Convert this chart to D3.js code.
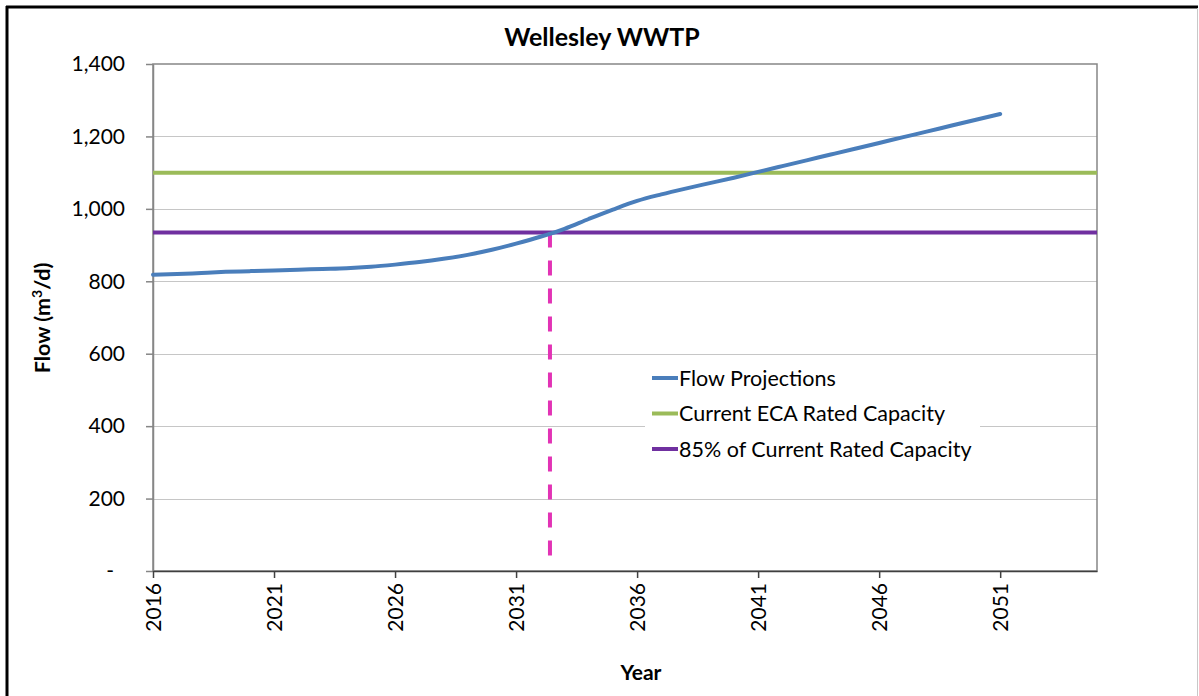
<!DOCTYPE html>
<html>
<head>
    <meta charset="utf-8">
    <title>Wellesley WWTP</title>
    <script src="https://cdnjs.cloudflare.com/ajax/libs/d3/7.8.5/d3.min.js"></script>
    <style>
        body { margin: 0; background: #fff; }
        text { font-family: Lato, "Open Sans", sans-serif; fill: #000; }
    </style>
</head>
<body>
<script>
    // datos
    var years = d3.range(2016, 2052);
    var flow = [818, 820, 823, 826, 828, 830, 832, 834, 836, 840,
                846, 853, 862, 873, 887, 904, 923, 945, 972, 998,
                1022, 1040, 1056, 1071, 1086, 1102, 1118, 1134, 1150, 1166,
                1182, 1198, 1214, 1230, 1246, 1262];
    var ecaCapacity = 1100;
    var capacity85 = 935;
    var crossYear = 2032.4;
    var yTicks = [0, 200, 400, 600, 800, 1000, 1200, 1400];
    var xTicks = [2016, 2021, 2026, 2031, 2036, 2041, 2046, 2051];
    var legendNames = ["Flow Projections", "Current ECA Rated Capacity", "85% of Current Rated Capacity"];
    var colores = ["#4a7ebb", "#9bbb59", "#7030a0"];

    var width = 1199, height = 696;
    var mLeft = 153, mRight = 1097, mTop = 64, mBottom = 571;

    var svg = d3.select("body").append("svg")
        .attr("width", width)
        .attr("height", height);

    // marco exterior
    svg.append("line").attr("x1", 7).attr("x2", 7).attr("y1", 6).attr("y2", 696)
        .attr("stroke", "#000").attr("stroke-width", 3);
    svg.append("line").attr("x1", 6).attr("x2", 1198).attr("y1", 7).attr("y2", 7)
        .attr("stroke", "#000").attr("stroke-width", 3);
    svg.append("line").attr("x1", 1197.5).attr("x2", 1197.5).attr("y1", 8).attr("y2", 696)
        .attr("stroke", "#c8c8c8").attr("stroke-width", 1);

    var x = d3.scaleLinear().domain([2016, 2055]).range([mLeft, mRight]);
    var y = d3.scaleLinear().domain([0, 1400]).range([mBottom, mTop]);

    // grilla
    svg.append("g").selectAll("line")
        .data(yTicks.slice(1, -1))
        .enter().append("line")
        .attr("x1", mLeft).attr("x2", mRight)
        .attr("y1", function(d) { return Math.round(y(d)) + 0.5; })
        .attr("y2", function(d) { return Math.round(y(d)) + 0.5; })
        .attr("stroke", "#c6c6c6").attr("stroke-width", 1);

    // borde del area
    svg.append("rect")
        .attr("x", mLeft).attr("y", mTop)
        .attr("width", mRight - mLeft).attr("height", mBottom - mTop)
        .attr("fill", "none").attr("stroke", "#868686").attr("stroke-width", 1.5);

    var yAxis = svg.append("g")
        .attr("transform", "translate(" + mLeft + ",0)")
        .call(d3.axisLeft(y).tickValues(yTicks).tickSize(7).tickSizeOuter(0).tickPadding(21)
            .tickFormat(function(d) { return d === 0 ? "-" : d3.format(",")(d); }));
    yAxis.select(".domain").attr("stroke", "#868686").attr("stroke-width", 1.5);
    yAxis.selectAll(".tick line").attr("stroke", "#868686").attr("stroke-width", 1.5);
    yAxis.selectAll("text").style("font-size", "21px").attr("fill", "#000");
    // el cero ("-") queda un poco mas a la izquierda, como en excel
    yAxis.selectAll(".tick").filter(function(d) { return d === 0; })
        .select("text").attr("x", -39);

    var xAxis = svg.append("g")
        .attr("transform", "translate(0," + mBottom + ")")
        .call(d3.axisBottom(x).tickValues(xTicks).tickSize(7).tickSizeOuter(0).tickFormat(d3.format("d")));
    xAxis.select(".domain").attr("stroke", "#404040").attr("stroke-width", 1.5);
    xAxis.selectAll(".tick line").attr("stroke", "#404040").attr("stroke-width", 1.5);
    xAxis.selectAll("text")
        .style("font-size", "21px")
        .attr("fill", "#000")
        .attr("transform", "rotate(-90)")
        .attr("text-anchor", "end")
        .attr("dy", "0.35em")
        .attr("x", -12)
        .attr("y", 0);

    // lineas horizontales de capacidad
    svg.append("line")
        .attr("x1", mLeft).attr("x2", mRight)
        .attr("y1", y(ecaCapacity)).attr("y2", y(ecaCapacity))
        .attr("stroke", colores[1]).attr("stroke-width", 4);
    svg.append("line")
        .attr("x1", mLeft).attr("x2", mRight)
        .attr("y1", y(capacity85)).attr("y2", y(capacity85))
        .attr("stroke", colores[2]).attr("stroke-width", 4);

    // linea vertical punteada
    svg.append("line")
        .attr("x1", x(crossYear)).attr("x2", x(crossYear))
        .attr("y1", y(capacity85)).attr("y2", mBottom - 8)
        .attr("stroke", "#e233b5").attr("stroke-width", 4)
        .attr("stroke-dasharray", "15,13");

    var linea = d3.line()
        .x(function(d, i) { return x(years[i]); })
        .y(function(d) { return y(d); })
        .curve(d3.curveMonotoneX);

    svg.append("path")
        .datum(flow)
        .attr("d", linea)
        .attr("fill", "none")
        .attr("stroke", colores[0])
        .attr("stroke-width", 4)
        .attr("stroke-linecap", "round");

    // leyenda
    svg.append("rect")
        .attr("x", 645).attr("y", 362).attr("width", 335).attr("height", 104)
        .attr("fill", "#fff");
    var leyenda = svg.append("g").selectAll("g")
        .data(legendNames)
        .enter().append("g")
        .attr("transform", function(d, i) { return "translate(652," + (378 + i * 35.5) + ")"; });
    leyenda.append("line")
        .attr("x1", 0).attr("x2", 26)
        .attr("stroke", function(d, i) { return colores[i]; })
        .attr("stroke-width", 4);
    leyenda.append("text")
        .attr("x", 27).attr("dy", "0.35em")
        .style("font-size", "21.5px")
        .text(function(d) { return d; });

    // titulos
    svg.append("text")
        .attr("x", 602).attr("y", 46)
        .attr("text-anchor", "middle")
        .style("font-size", "25px").style("font-weight", "bold")
        .text("Wellesley WWTP");
    svg.append("text")
        .attr("x", 641).attr("y", 680)
        .attr("text-anchor", "middle")
        .style("font-size", "21px").style("font-weight", "bold")
        .text("Year");
    var yLabel = svg.append("text")
        .attr("transform", "translate(50,318) rotate(-90)")
        .attr("text-anchor", "middle")
        .style("font-size", "21.5px").style("font-weight", "bold");
    yLabel.append("tspan").text("Flow (m");
    yLabel.append("tspan").attr("baseline-shift", "super").style("font-size", "14px").text("3");
    yLabel.append("tspan").text("/d)");
</script>
</body>
</html>
